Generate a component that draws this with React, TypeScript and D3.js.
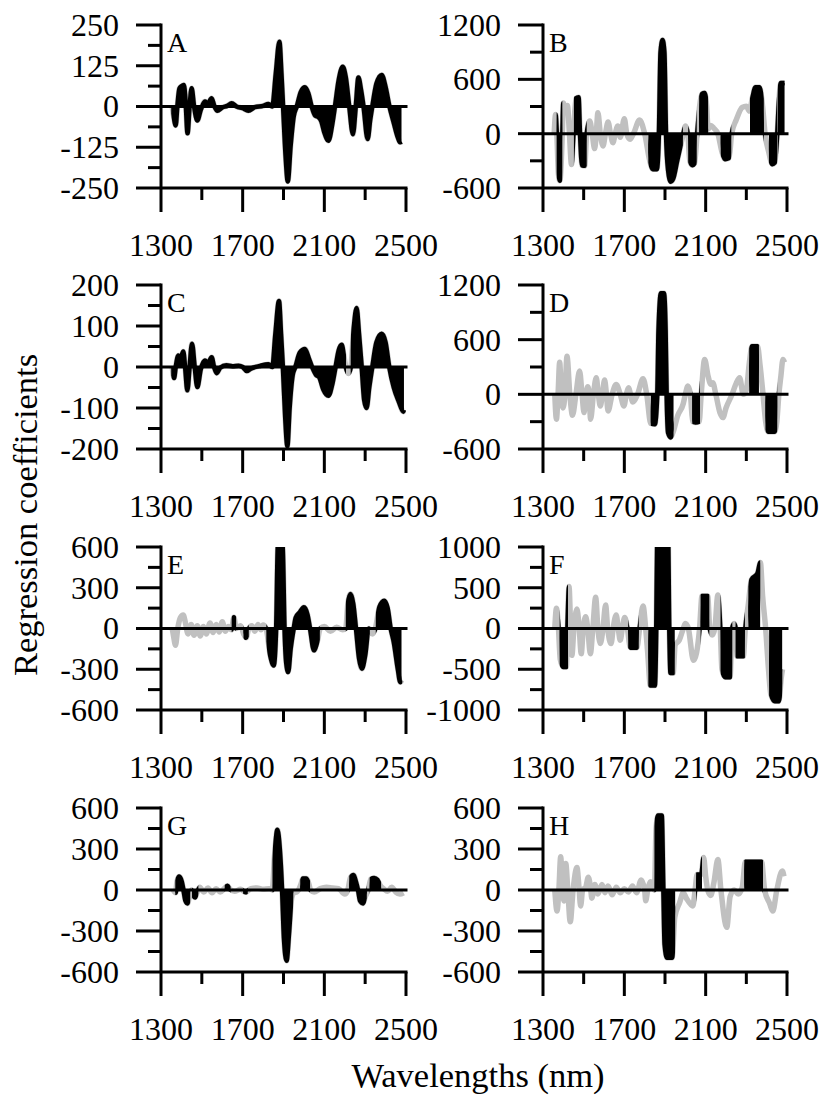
import React from 'react';
import * as d3 from 'd3';

type Pt = [number, number];
type Range = [number, number];

const xTickLabels = [1300, 1700, 2100, 2500];
const xMinorTicks = [1500, 1900, 2300];

const seriesA: Pt[] = [
  [1355, 0], [1362, -30], [1372, -58], [1380, 0], [1390, 55], [1400, 62], [1412, 66], [1420, 20], [1430, -82], [1440, 0],
  [1450, 56], [1462, 0], [1478, -43], [1495, -10], [1515, 15], [1530, 10], [1548, 25], [1562, 0], [1576, -13], [1600, -3],
  [1625, 2], [1646, 10], [1670, 0], [1700, -5], [1728, -13], [1760, -2], [1800, 2], [1826, 8], [1845, 0], [1862, 100],
  [1880, 199], [1890, 100], [1898, 0], [1910, -150], [1921, -230], [1935, -120], [1950, -30], [1965, 0], [1985, 45], [2005, 59],
  [2022, 40], [2038, 0], [2055, -28], [2070, -32], [2085, -45], [2100, -80], [2120, -105], [2140, -50], [2152, 0], [2170, 80],
  [2190, 122], [2205, 90], [2222, 0], [2240, -85], [2254, 0], [2267, 89], [2280, 50], [2292, 0], [2312, -100], [2325, -40],
  [2335, 0], [2355, 70], [2381, 97], [2400, 60], [2419, 0], [2440, -50], [2460, -95], [2471, -110], [2478, -108],
];
const selectedA: Range[] = [[1350, 2500]];

const seriesB: Pt[] = [
  [1355, 0], [1362, 212], [1368, 0], [1376, -450], [1383, -520], [1390, -300], [1395, 0], [1400, 340], [1410, 250], [1420, 310],
  [1430, 0], [1440, -340], [1450, 0], [1462, 390], [1475, 402], [1482, 0], [1492, -350], [1505, -355], [1515, 0], [1530, 140],
  [1542, 0], [1554, -165], [1562, 0], [1570, 230], [1582, 0], [1595, -135], [1607, 0], [1620, 128], [1632, 0], [1644, -99],
  [1655, 0], [1668, 84], [1680, -40], [1700, 165], [1712, 0], [1728, -62], [1745, 0], [1775, 150], [1800, 0], [1825, -300],
  [1840, -392], [1860, -392], [1870, 0], [1878, 900], [1888, 1035], [1897, 900], [1905, 0], [1915, -400], [1928, -530], [1940, -500],
  [1960, -300], [1980, -100], [1990, 0], [2001, 84], [2012, 0], [2022, -300], [2035, -348], [2045, -330], [2058, 0], [2070, 300],
  [2082, 440], [2095, 450], [2105, 300], [2112, 50], [2125, 91], [2140, 60], [2160, 0], [2180, -200], [2195, -282], [2215, -270],
  [2228, 0], [2250, 150], [2280, 290], [2300, 304], [2315, 250], [2330, 400], [2345, 512], [2365, 512], [2380, 300], [2392, 0],
  [2410, -200], [2428, -337], [2440, -320], [2452, 0], [2460, 350], [2470, 560], [2488, 560],
];
const selectedB: Range[] = [[1367, 1395], [1452, 1515], [1818, 1988], [2014, 2056], [2068, 2112], [2174, 2226], [2318, 2386], [2411, 2452], [2455, 2495]];

const seriesC: Pt[] = [
  [1355, 0], [1364, -27], [1372, 0], [1385, 28], [1395, 20], [1409, 38], [1418, 0], [1429, -57], [1440, 0], [1452, 57],
  [1465, 0], [1478, -49], [1495, -5], [1515, 16], [1530, 10], [1548, 24], [1560, 0], [1573, -15], [1590, -2], [1620, 4],
  [1650, 2], [1680, 3], [1700, 0], [1720, -10], [1740, -4], [1780, 2], [1826, 7], [1845, 0], [1860, 80], [1878, 161],
  [1888, 80], [1897, 0], [1908, -120], [1919, -193], [1930, -100], [1945, -20], [1958, 0], [1980, 35], [2005, 44], [2025, 20],
  [2040, 0], [2059, -19], [2075, -25], [2095, -55], [2120, -70], [2140, -40], [2155, 0], [2170, 40], [2185, 54], [2198, 20],
  [2205, 0], [2218, -16], [2230, 0], [2245, 100], [2258, 144], [2270, 80], [2283, 0], [2295, -80], [2307, -100], [2320, -50],
  [2335, 0], [2355, 60], [2381, 81], [2400, 60], [2418, 0], [2440, -50], [2465, -85], [2487, -109], [2490, -105],
];
const selectedC: Range[] = [[1350, 2206], [2229, 2500]];

const seriesD: Pt[] = [
  [1358, 0], [1366, -273], [1374, 0], [1382, 353], [1390, 0], [1398, -150], [1408, 0], [1418, 418], [1432, 0], [1445, -230],
  [1462, 0], [1480, 255], [1492, 0], [1502, -200], [1512, 0], [1520, 84], [1527, 0], [1534, -273], [1548, 0], [1562, 182],
  [1572, 0], [1582, -127], [1592, 0], [1603, 156], [1612, 0], [1620, -182], [1640, 0], [1660, 109], [1680, 0], [1698, -127],
  [1710, 0], [1722, 73], [1730, 0], [1742, -84], [1765, 0], [1792, 171], [1810, 0], [1830, -320], [1850, -327], [1862, 0],
  [1868, 700], [1880, 1109], [1895, 1109], [1903, 700], [1908, 0], [1915, -420], [1928, -473], [1942, -400], [1962, -236], [1990, -100],
  [2000, 0], [2013, 91], [2025, 0], [2036, -300], [2050, -309], [2068, -300], [2078, 0], [2095, 382], [2112, 200], [2125, 110],
  [2135, 127], [2150, 0], [2170, -200], [2185, -255], [2200, -150], [2230, 0], [2250, 120], [2267, 182], [2285, 0], [2300, 50],
  [2315, 350], [2328, 527], [2355, 527], [2368, 309], [2382, 0], [2395, -300], [2408, -411], [2438, -411], [2450, -300], [2460, 0],
  [2470, 200], [2480, 382], [2488, 350],
];
const selectedD: Range[] = [[1830, 1942], [2034, 2072], [2314, 2362], [2394, 2452]];

const seriesE: Pt[] = [
  [1355, 0], [1362, -60], [1371, -123], [1382, 0], [1395, 80], [1409, 99], [1420, 40], [1432, -40], [1448, 30], [1462, -50],
  [1478, 20], [1492, -55], [1508, 15], [1522, -40], [1540, 40], [1555, -30], [1570, 30], [1585, -25], [1600, 50], [1615, -20],
  [1630, 15], [1645, -10], [1657, 82], [1668, 0], [1690, 20], [1705, -40], [1717, -69], [1730, 0], [1745, 20], [1760, -20],
  [1775, 30], [1790, -10], [1800, 25], [1815, 0], [1835, -200], [1852, -272], [1864, 0], [1872, 600], [1884, 700], [1896, 600],
  [1905, 0], [1913, -250], [1923, -321], [1935, -150], [1950, 0], [1960, 80], [1980, 120], [2000, 156], [2018, 100], [2030, 0],
  [2049, -161], [2065, -100], [2080, 0], [2100, 15], [2130, -20], [2160, 10], [2190, -10], [2205, 0], [2215, 180], [2228, 254],
  [2242, 180], [2255, 0], [2270, -220], [2284, -296], [2300, -200], [2318, 0], [2335, -40], [2350, 0], [2370, 160], [2393, 205],
  [2410, 150], [2425, 0], [2440, -100], [2460, -300], [2472, -395], [2478, -380],
];
const selectedE: Range[] = [[1646, 1668], [1704, 1730], [1816, 2078], [2205, 2323], [2352, 2482]];

const seriesF: Pt[] = [
  [1358, 0], [1366, 247], [1375, 50], [1385, -380], [1400, -473], [1415, -473], [1420, 0], [1428, 514], [1436, 0], [1442, -329],
  [1452, 0], [1467, 239], [1478, 0], [1488, -309], [1498, 0], [1510, 144], [1520, 0], [1533, -309], [1545, 0], [1559, 383],
  [1570, 0], [1582, -185], [1595, 0], [1608, 288], [1618, 0], [1635, -185], [1645, 0], [1660, 165], [1670, 0], [1680, -144],
  [1690, 0], [1702, 136], [1715, 0], [1730, -235], [1762, -235], [1775, 0], [1792, 276], [1805, 0], [1815, -300], [1828, -700],
  [1850, -700], [1857, 0], [1862, 1200], [1890, 1500], [1915, 1200], [1921, 0], [1927, -547], [1940, -547], [1950, -200], [1970, -144],
  [1990, 0], [2000, 62], [2015, 0], [2040, -391], [2055, -300], [2070, 0], [2082, 399], [2110, 399], [2120, 0], [2132, -80],
  [2145, 0], [2160, 411], [2172, 0], [2180, -500], [2195, -597], [2220, -597], [2230, 0], [2240, 60], [2248, 0], [2255, -342],
  [2285, -342], [2295, 0], [2310, 300], [2325, 600], [2355, 679], [2369, 810], [2380, 400], [2395, 0], [2410, -535], [2420, -800],
  [2440, -893], [2460, -893], [2472, -600], [2478, -500],
];
const selectedF: Range[] = [[1382, 1423], [1719, 1771], [1818, 1948], [2075, 2118], [2173, 2231], [2247, 2293], [2310, 2368], [2412, 2477]];

const seriesG: Pt[] = [
  [1360, 0], [1372, -20], [1378, 60], [1389, 98], [1402, 60], [1410, 0], [1420, -80], [1430, -98], [1440, -40], [1450, 0],
  [1458, -40], [1467, -54], [1476, -20], [1490, 20], [1510, -15], [1530, 15], [1550, -20], [1570, 10], [1590, -15], [1610, 10],
  [1625, 32], [1638, 5], [1660, -10], [1690, 5], [1714, -17], [1740, 10], [1770, 15], [1800, 5], [1830, 10], [1845, 0],
  [1856, 250], [1870, 440], [1882, 300], [1893, 0], [1902, -350], [1915, -517], [1928, -300], [1940, -60], [1950, -20], [1965, -15],
  [1985, 40], [1995, 85], [2012, 85], [2025, 40], [2032, 0], [2050, -15], [2080, 10], [2110, 20], [2140, 15], [2170, 10],
  [2200, -30], [2215, 0], [2228, 90], [2243, 110], [2255, 60], [2265, 0], [2275, -80], [2290, -98], [2300, -50], [2315, 0],
  [2328, 80], [2344, 88], [2360, 75], [2375, 30], [2390, 10], [2410, -10], [2430, 20], [2450, -15], [2470, -30], [2488, -20],
];
const selectedG: Range[] = [[1370, 1443], [1452, 1483], [1612, 1641], [1702, 1725], [1846, 1948], [1982, 2030], [2222, 2308], [2322, 2378]];

const seriesH: Pt[] = [
  [1358, 0], [1369, -154], [1378, 0], [1387, 243], [1396, 0], [1403, -80], [1412, 193], [1422, 0], [1434, -233], [1448, 0],
  [1467, 164], [1478, 0], [1485, -117], [1495, 0], [1510, 20], [1523, 94], [1535, 0], [1540, -60], [1555, 40], [1570, -30],
  [1590, 40], [1605, -20], [1620, 30], [1640, -35], [1660, 20], [1680, -20], [1700, 10], [1720, -15], [1740, 30], [1760, -20],
  [1783, 74], [1800, 0], [1805, -79], [1815, 0], [1830, 60], [1848, 0], [1856, 450], [1866, 546], [1884, 546], [1892, 0],
  [1898, -400], [1910, -496], [1935, -496], [1948, -200], [1972, -92], [1990, -20], [2005, -60], [2037, -117], [2048, 0], [2058, 114],
  [2078, 114], [2090, 238], [2100, 100], [2110, 0], [2125, -40], [2140, 50], [2160, 223], [2175, 0], [2204, -273], [2220, -50],
  [2240, 0], [2260, -30], [2280, 20], [2295, 206], [2375, 206], [2390, 0], [2415, -100], [2430, -154], [2450, 0], [2477, 139],
  [2485, 100],
];
const selectedH: Range[] = [[1848, 1950], [2053, 2082], [2290, 2382]];

const ticksA = [-250, -125, 0, 125, 250];
const ticksB = [-600, 0, 600, 1200];
const ticksC = [-200, -100, 0, 100, 200];
const ticksD = [-600, 0, 600, 1200];
const ticksE = [-600, -300, 0, 300, 600];
const ticksF = [-1000, -500, 0, 500, 1000];
const ticksG = [-600, -300, 0, 300, 600];
const ticksH = [-600, -300, 0, 300, 600];

const FONT = '"Liberation Serif", "Times New Roman", serif';

interface PanelProps {
  letter: string;
  x0: number;
  y0: number;
  w: number;
  h: number;
  ticks: number[];
  points: Pt[];
  selected: Range[];
}

function Panel({ letter, x0, y0, w, h, ticks, points, selected }: PanelProps) {
  const domain: [number, number] = [ticks[0], ticks[ticks.length - 1]];
  const x = d3.scaleLinear().domain([1300, 2500]).range([x0, x0 + w]);
  const y = d3.scaleLinear().domain(domain).range([y0 + h, y0]);
  const line = d3.line<Pt>().x(d => x(d[0])).y(d => y(d[1])).curve(d3.curveMonotoneX);
  const area = d3.area<Pt>().x(d => x(d[0])).y0(y(0)).y1(d => y(d[1])).curve(d3.curveMonotoneX);
  const step = ticks[1] - ticks[0];
  const minors = ticks.slice(0, -1).map(t => t + step / 2);
  const id = 'panel' + letter;
  const sw = 3;
  return (
    <g>
      <defs>
        <clipPath id={id + 'plot'}>
          <rect x={x0} y={y0} width={w} height={h} />
        </clipPath>
        <clipPath id={id + 'sel'}>
          {selected.map(([a, b], i) => (
            <rect key={i} x={x(a)} y={y0 - 10} width={x(b) - x(a)} height={h + 20} />
          ))}
        </clipPath>
      </defs>
      <g clipPath={`url(#${id}plot)`}>
        <path d={line(points) || ''} fill="none" stroke="#c0c0c0" strokeWidth={5.5} strokeLinejoin="round" />
        <g clipPath={`url(#${id}sel)`}>
          <path d={area(points) || ''} fill="#000" />
          <path d={line(points) || ''} fill="none" stroke="#000" strokeWidth={4.5} strokeLinejoin="round" />
        </g>
      </g>
      <line x1={x0} x2={x0 + w + 1.5} y1={y(0)} y2={y(0)} stroke="#000" strokeWidth={sw} />
      <line x1={x0} x2={x0} y1={y0 - 1.5} y2={y0 + h} stroke="#000" strokeWidth={sw} />
      <line x1={x0} x2={x0 + w + 1.5} y1={y0 + h} y2={y0 + h} stroke="#000" strokeWidth={sw} />
      {ticks.map(t => (
        <line key={'ym' + t} x1={x0 - 25} x2={x0} y1={y(t)} y2={y(t)} stroke="#000" strokeWidth={sw} />
      ))}
      {minors.map(t => (
        <line key={'yn' + t} x1={x0 - 13} x2={x0} y1={y(t)} y2={y(t)} stroke="#000" strokeWidth={sw} />
      ))}
      {xTickLabels.map(t => (
        <line key={'xm' + t} x1={x(t)} x2={x(t)} y1={y0 + h} y2={y0 + h + 24} stroke="#000" strokeWidth={sw} />
      ))}
      {xMinorTicks.map(t => (
        <line key={'xn' + t} x1={x(t)} x2={x(t)} y1={y0 + h} y2={y0 + h + 12} stroke="#000" strokeWidth={sw} />
      ))}
      {ticks.map(t => (
        <text key={'yl' + t} x={x0 - 42} y={y(t)} dy="0.34em" textAnchor="end" fontSize={32} fontFamily={FONT}>
          {t}
        </text>
      ))}
      {xTickLabels.map(t => (
        <text key={'xl' + t} x={x(t)} y={y0 + h + 68} textAnchor="middle" fontSize={32} fontFamily={FONT}>
          {t}
        </text>
      ))}
      <text x={x0 + 6} y={y0 + 27} fontSize={28} fontFamily={FONT}>
        {letter}
      </text>
    </g>
  );
}

export default function App() {
  const LX = 161;
  const RX = 543;
  const W = 245;
  const H = 164;
  const rows = [25, 285, 547, 808];
  const panels: PanelProps[] = [
    { letter: 'A', x0: LX, y0: rows[0], w: W, h: H - 1, ticks: ticksA, points: seriesA, selected: selectedA },
    { letter: 'B', x0: RX, y0: rows[0], w: W - 1, h: H - 1, ticks: ticksB, points: seriesB, selected: selectedB },
    { letter: 'C', x0: LX, y0: rows[1], w: W, h: H, ticks: ticksC, points: seriesC, selected: selectedC },
    { letter: 'D', x0: RX, y0: rows[1], w: W - 1, h: H, ticks: ticksD, points: seriesD, selected: selectedD },
    { letter: 'E', x0: LX, y0: rows[2], w: W, h: H - 1, ticks: ticksE, points: seriesE, selected: selectedE },
    { letter: 'F', x0: RX, y0: rows[2], w: W - 1, h: H - 1, ticks: ticksF, points: seriesF, selected: selectedF },
    { letter: 'G', x0: LX, y0: rows[3], w: W, h: H, ticks: ticksG, points: seriesG, selected: selectedG },
    { letter: 'H', x0: RX, y0: rows[3], w: W - 1, h: H, ticks: ticksH, points: seriesH, selected: selectedH },
  ];
  return (
    <svg width={825} height={1095} style={{ position: 'absolute', left: 0, top: 0, background: '#fff' }}>
      <rect width={825} height={1095} fill="#fff" />
      {panels.map(p => (
        <Panel key={p.letter} {...p} />
      ))}
      <text transform="translate(37,515) rotate(-90)" textAnchor="middle" fontSize={34.5} fontFamily={FONT}>
        Regression coefficients
      </text>
      <text x={478} y={1087} textAnchor="middle" fontSize={34.5} fontFamily={FONT}>
        Wavelengths (nm)
      </text>
    </svg>
  );
}
